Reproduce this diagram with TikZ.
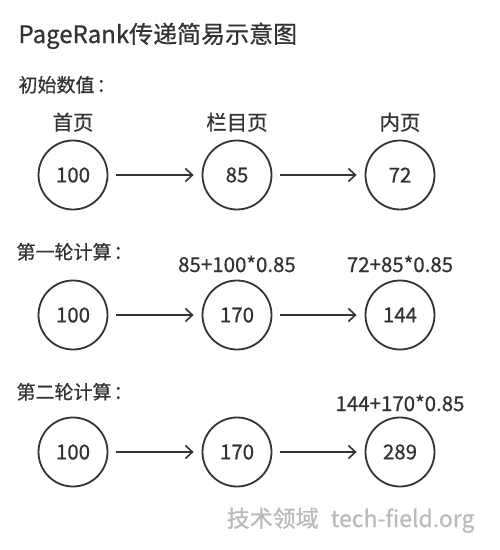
\documentclass[tikz,border=0pt]{standalone}
\usepackage{fontspec}
\setmainfont{Noto Sans CJK SC}[FakeBold=0.6]
\usetikzlibrary{arrows.meta}
\begin{document}
\begin{tikzpicture}[x=1pt, y=-1pt]
            \tikzstyle{page}=[draw=black!80, circle, line width=1.8pt, minimum size=69pt, inner sep=0pt, text=black!80, font=\fontsize{20.5}{20}\selectfont]
            \tikzstyle{heading}=[anchor=base west, text=black!80, font=\fontsize{19}{19}\selectfont]
            \tikzstyle{caption}=[anchor=base, text=black!80, font=\fontsize{20.5}{20}\selectfont]
            \tikzstyle{pass}=[draw=black!80, line width=1.6pt, -{Straight Barb[length=7pt, width=13pt, line width=1.6pt]}, shorten <=8pt, shorten >=8pt]
            \useasboundingbox [fill=white] (0, 0) rectangle (500, 550);
            \node [anchor=base west, text=black!80, font=\fontsize{24}{24}\selectfont] (title) at (15, 43) {PageRank传递简易示意图};
            % initial values
            \node [heading] (init) at (15, 92) {初始数值\kern2pt：};
            \node [caption] (homelabel) at (73, 130) {首页};
            \node [caption] (columnlabel) at (237, 130) {栏目页};
            \node [caption] (innerlabel) at (400, 130) {内页};
            \node [page] (a1) at (73, 175) {100};
            \node [page] (b1) at (237, 175) {85};
            \node [page] (c1) at (400, 175) {72};
            \draw [pass] (a1) -- (b1);
            \draw [pass] (b1) -- (c1);
            % first round
            \node [heading] (round1) at (13, 259) {第一轮计算\kern2pt：};
            \node [caption] (calcb2) at (237, 272) {85+100*0.85};
            \node [caption] (calcc2) at (400, 272) {72+85*0.85};
            \node [page] (a2) at (73, 315) {100};
            \node [page] (b2) at (237, 315) {170};
            \node [page] (c2) at (400, 315) {144};
            \draw [pass] (a2) -- (b2);
            \draw [pass] (b2) -- (c2);
            % second round
            \node [heading] (round2) at (13, 399) {第二轮计算\kern2pt：};
            \node [caption] (calcc3) at (400, 411) {144+170*0.85};
            \node [page] (a3) at (73, 452) {100};
            \node [page] (b3) at (237, 452) {170};
            \node [page] (c3) at (400, 452) {289};
            \draw [pass] (a3) -- (b3);
            \draw [pass] (b3) -- (c3);
            \node [anchor=base east, text=black!27, font=\fontsize{23}{23}\selectfont] (mark) at (478, 527) {技术领域\hspace{12pt}tech-field.org};
        \end{tikzpicture}
\end{document}
